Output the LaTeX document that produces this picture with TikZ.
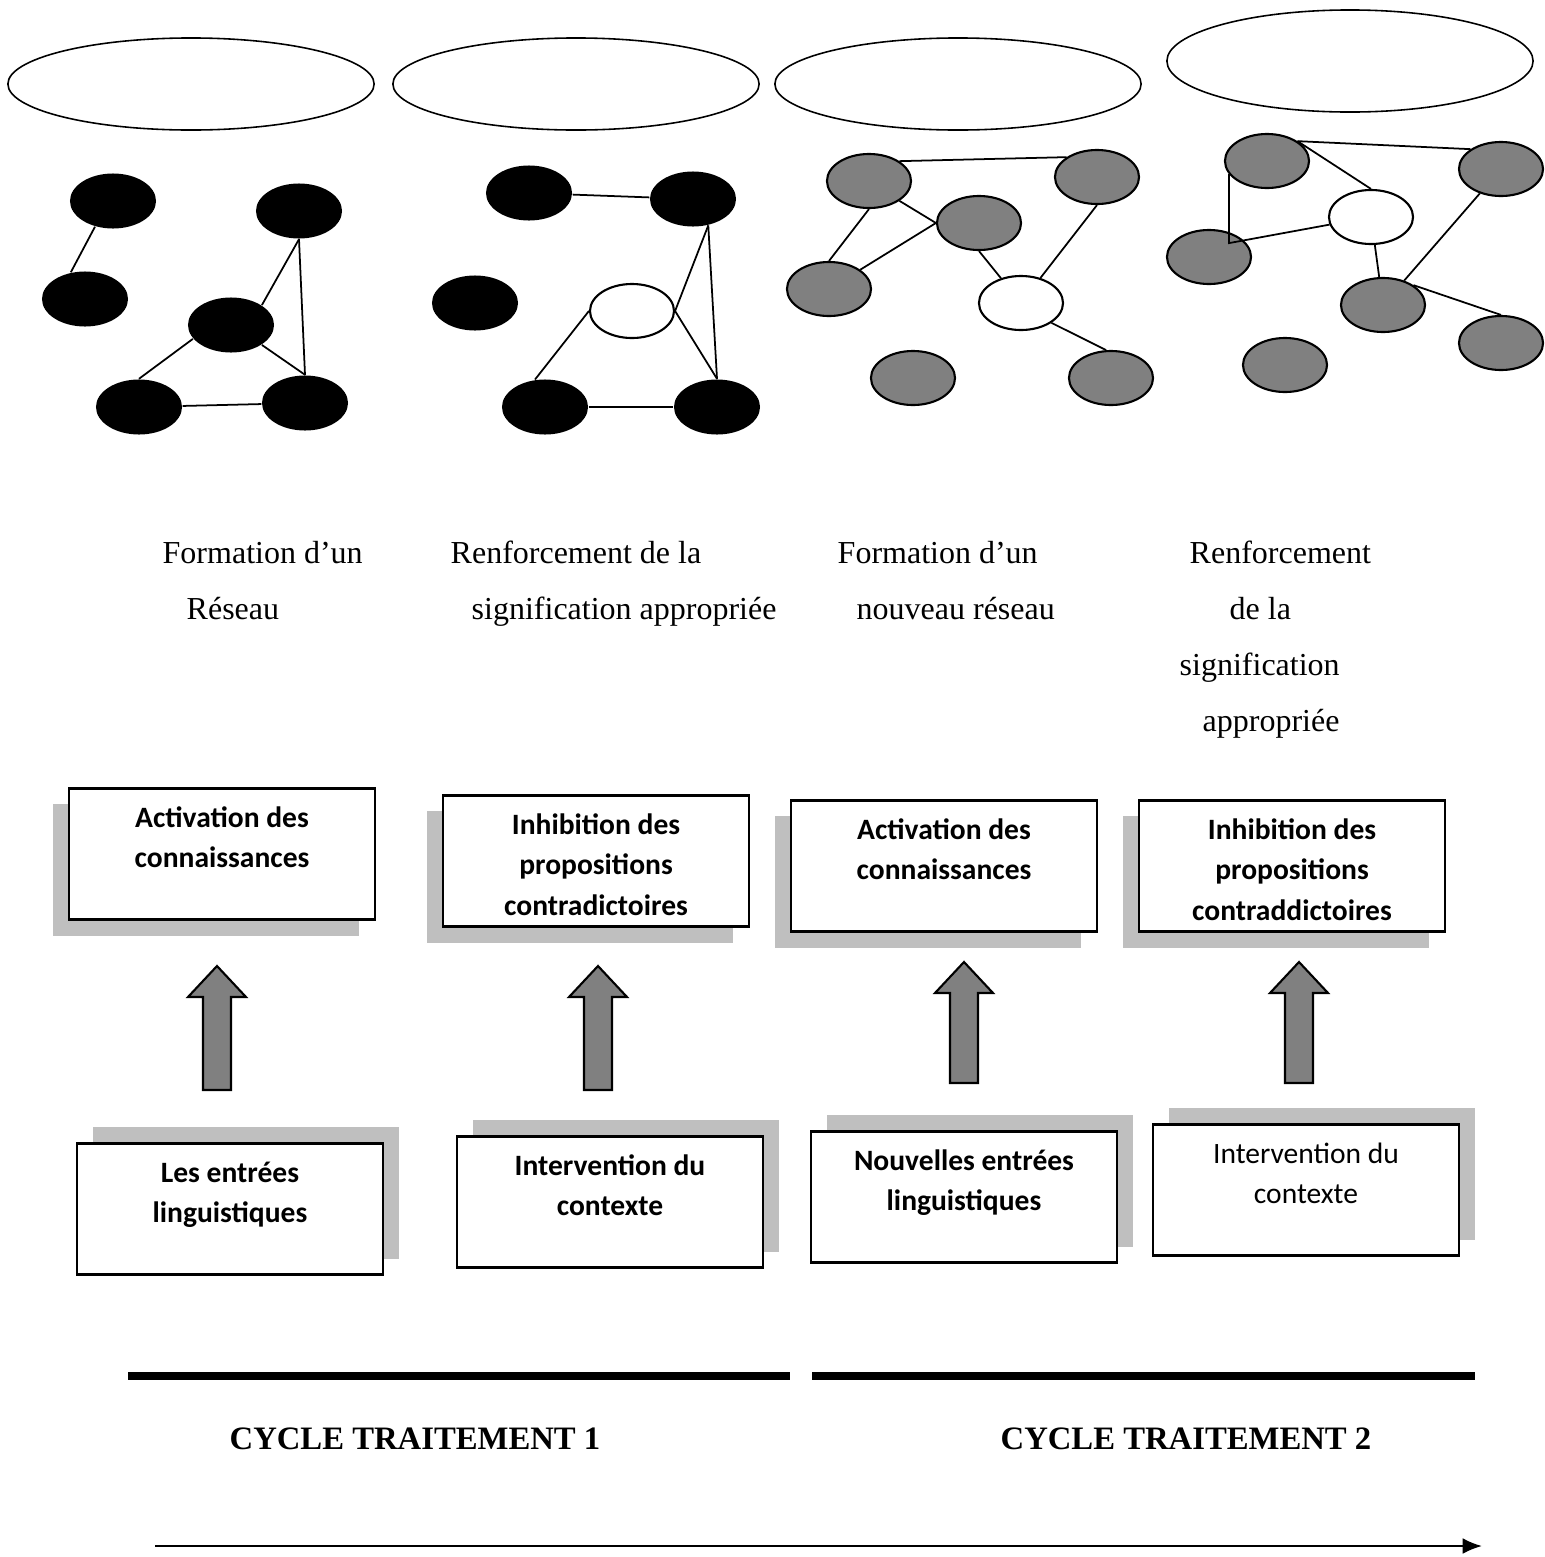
\documentclass[tikz,border=0pt]{standalone}
\usepackage{fontspec}
\setmainfont{Liberation Serif}
\newfontfamily\boxfont{Carlito}
\usetikzlibrary{shapes,arrows.meta,shadows}
\definecolor{nodegray}{HTML}{808080}
\definecolor{shadowgray}{HTML}{BFBFBF}
\newcommand{\boxtext}[1]{\parbox[c][1.31cm][t]{3.06cm}{\centering\rule{0pt}{11.2pt}#1}}

\begin{document}
\begin{tikzpicture}[x=0.01cm,y=-0.01cm,
	bubble/.style={ellipse,draw,line width=0.45pt,minimum width=3.66cm,minimum height=0.92cm},
	black node/.style={ellipse,fill=black,minimum width=0.86cm,minimum height=0.55cm,inner sep=0pt},
	gray node/.style={ellipse,draw,line width=0.6pt,fill=nodegray,minimum width=0.84cm,minimum height=0.54cm,inner sep=0pt},
	white node/.style={gray node,fill=white},
	every edge/.style={draw,line width=0.5pt},
	caption/.style={anchor=base west,inner sep=0pt,font=\fontsize{9.1}{11}\selectfont},
	box/.style={draw,fill=white,line width=0.6pt,inner sep=0pt,font=\boxfont\bfseries\fontsize{8.4}{11.4}\selectfont},
	top box/.style={box,drop shadow={shadow xshift=-0.16cm,shadow yshift=-0.16cm,fill=shadowgray,opacity=1}},
	low box/.style={box,drop shadow={shadow xshift=0.16cm,shadow yshift=0.16cm,fill=shadowgray,opacity=1}},
	block/.style={draw,fill=nodegray,line width=0.6pt}]
	\useasboundingbox (0,0) rectangle (1545,1557);
	
	% empty bubbles
	\node[bubble] (b1) at (191,84) {};
	\node[bubble] (b2) at (576,84) {};
	\node[bubble] (b3) at (958,84) {};
	\node[bubble,minimum height=1.02cm] (b4) at (1350,61) {};
	
	% network 1
	\node[black node] (r1a) at (113,201) {};
	\node[black node] (r1b) at (85,299) {};
	\node[black node] (r1c) at (299,211) {};
	\node[black node] (r1d) at (231,325) {};
	\node[black node] (r1e) at (139,407) {};
	\node[black node] (r1f) at (305,403) {};
	\path (r1a.235) edge (r1b.118)
	(r1d.north east) edge (r1c.south)
	(r1c.south) edge (r1f.north)
	(r1d.200) edge (r1e.north)
	(r1d.south east) edge (r1f.north)
	(r1e) edge (r1f);
	
	% network 2
	\node[black node] (r2a) at (529,193) {};
	\node[black node] (r2b) at (693,199) {};
	\node[black node] (r2c) at (475,303) {};
	\node[white node] (r2w) at (632,311) {};
	\node[black node] (r2e) at (545,407) {};
	\node[black node] (r2f) at (717,407) {};
	\path (r2a) edge (r2b)
	(r2w.east) edge (r2b.-60)
	(r2b.-60) edge (r2f.north)
	(r2w.east) edge (r2f.north)
	(r2w.west) edge (r2e.110)
	(r2e) edge (r2f);
	
	% network 3
	\node[gray node] (r3a) at (869,181) {};
	\node[gray node] (r3b) at (1097,177) {};
	\node[gray node] (r3c) at (979,223) {};
	\node[gray node] (r3d) at (829,289) {};
	\node[white node] (r3w) at (1021,303) {};
	\node[gray node] (r3g) at (913,378) {};
	\node[gray node] (r3h) at (1111,378) {};
	\path (r3a.north east) edge (r3b.north west)
	(r3a.south) edge (r3d.north)
	(r3a.south east) edge (r3c.west)
	(r3c.west) edge (r3d)
	(r3c.south) edge (r3w)
	(r3b.south) edge (r3w)
	(r3w.south east) edge (r3h.100);
	
	% network 4
	\node[gray node] (r4a) at (1267,161) {};
	\node[gray node] (r4b) at (1501,169) {};
	\node[white node] (r4w) at (1371,217) {};
	\node[gray node] (r4c) at (1209,257) {};
	\node[gray node] (r4d) at (1383,305) {};
	\node[gray node] (r4e) at (1501,343) {};
	\node[gray node] (r4g) at (1285,365) {};
	\path (r4a.north east) edge (r4b.north west)
	(r4a.north east) edge (r4w.north)
	(r4w) edge (r4d)
	(r4b) edge (r4d)
	(r4d.north east) edge (r4e.north);
	\draw[line width=0.5pt] (r4a.199) -- ++(0,69) -- (r4w);
	
	% captions
	\node[caption] (f1a) at (162,563) {Formation d’un};
	\node[caption] (f1b) at (186,619) {Réseau};
	\node[caption] (f2a) at (450,563) {Renforcement de la};
	\node[caption] (f2b) at (471,619) {signification appropriée};
	\node[caption] (f3a) at (837,563) {Formation d’un};
	\node[caption] (f3b) at (856,619) {nouveau réseau};
	\node[caption] (f4a) at (1189,563) {Renforcement};
	\node[caption] (f4b) at (1229,619) {de la};
	\node[caption] (f4c) at (1179,675) {signification};
	\node[caption] (f4d) at (1202,731) {appropriée};
	
	% processes
	\node[top box] (act1) at (222,854) {\boxtext{Activation des\\connaissances}};
	\node[top box] (inh1) at (596,861) {\boxtext{Inhibition des\\propositions\\contradictoires}};
	\node[top box] (act2) at (944,866) {\boxtext{Activation des\\connaissances}};
	\node[top box] (inh2) at (1292,866) {\boxtext{Inhibition des\\propositions\\contraddictoires}};
	
	\node[low box] (in1) at (230,1209) {\boxtext{Les entrées\\linguistiques}};
	\node[low box] (ctx1) at (610,1202) {\boxtext{Intervention du\\contexte}};
	\node[low box] (in2) at (964,1197) {\boxtext{Nouvelles entrées\\linguistiques}};
	\node[low box] (ctx2) at (1306,1190) {\boxtext{\mdseries Intervention du\\contexte}};
	
	% block arrows
	\foreach \ax/\ab/\at in {217/1090/966,598/1090/966,964/1083/962,1299/1083/962}
	\draw[block] (\ax-14,\ab) -- (\ax-14,\at+31) -- (\ax-29,\at+31) -- (\ax,\at)
	-- (\ax+29,\at+31) -- (\ax+14,\at+31) -- (\ax+14,\ab) -- cycle;
	
	% cycles
	\draw[line width=2.3pt] (128,1376) -- (790,1376);
	\draw[line width=2.3pt] (812,1376) -- (1475,1376);
	\node[anchor=base,font=\bfseries\fontsize{9.3}{11}\selectfont] (cyc1) at (415,1449) {CYCLE TRAITEMENT 1};
	\node[anchor=base,font=\bfseries\fontsize{9.3}{11}\selectfont] (cyc2) at (1186,1449) {CYCLE TRAITEMENT 2};
	\coordinate (t0) at (155,1546);
	\coordinate (t1) at (1482,1546);
	\draw[line width=0.6pt,-{Latex[length=5.5pt,width=4.5pt]}] (t0) -- (t1);
\end{tikzpicture}
\end{document}
